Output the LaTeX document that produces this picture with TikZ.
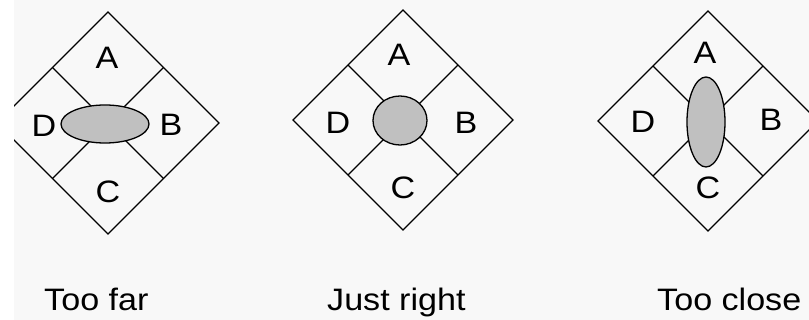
\documentclass[tikz,border=0pt]{standalone}
\usepackage{fontspec}
\setmainfont{Liberation Sans}
\definecolor{bgc}{HTML}{F8F8F8}
\definecolor{blobc}{HTML}{C0C0C0}
\tikzset{
  edge/.style={line width=1.2pt, line join=miter},
  blob/.style={line width=1.3pt, fill=blobc, draw=black},
  lbl/.style={font=\fontsize{31}{31}\selectfont, inner sep=0pt, text height=22pt, text depth=0pt, xscale=1.1},
}
\begin{document}
\begin{tikzpicture}[x=1pt,y=-1pt]
\useasboundingbox (0,0) rectangle (809,320);
\fill[white] (0,0) rectangle (809,320);
\fill[bgc] (14,0) rectangle (809,320);
\begin{scope}
\clip (14,0) rectangle (809,320);
% diamond 1
\begin{scope}[shift={(108,123)}]
  \draw[edge] (0,-111) -- (111,0) -- (0,111) -- (-111,0) -- cycle;
  \draw[edge] (-55.5,-55.5) -- (55.5,55.5) (55.5,-55.5) -- (-55.5,55.5);
  \draw[blob] (-3,1) ellipse [x radius=44, y radius=19];
\end{scope}
% diamond 2
\begin{scope}[shift={(403,120)}]
  \draw[edge] (0,-110) -- (110,0) -- (0,110) -- (-110,0) -- cycle;
  \draw[edge] (-55,-55) -- (55,55) (55,-55) -- (-55,55);
  \draw[blob] (-3,0.5) ellipse [x radius=27, y radius=24.5];
\end{scope}
% diamond 3
\begin{scope}[shift={(708,121)}]
  \draw[edge] (0,-110) -- (110,0) -- (0,110) -- (-110,0) -- cycle;
  \draw[edge] (-55,-55) -- (55,55) (55,-55) -- (-55,55);
  \draw[blob] (-2,1) ellipse [x radius=19, y radius=45];
\end{scope}
\end{scope}
% labels diamond 1
\node[lbl] (a1) at (107,58) {A};
\node[lbl] (b1) at (171,125) {B};
\node[lbl] (c1) at (108,192) {C};
\node[lbl] (d1) at (44,126) {D};
% labels diamond 2
\node[lbl] (a2) at (399,55) {A};
\node[lbl] (b2) at (466,123) {B};
\node[lbl] (c2) at (403,188) {C};
\node[lbl] (d2) at (338,123) {D};
% labels diamond 3
\node[lbl] (a3) at (705,53) {A};
\node[lbl] (b3) at (771,120) {B};
\node[lbl] (c3) at (708,188) {C};
\node[lbl] (d3) at (643,122) {D};
% captions
\node[lbl, anchor=west] (t1) at (44,300) {Too far};
\node[lbl, anchor=west] (t2) at (327,300) {Just right};
\node[lbl, anchor=west] (t3) at (657,300) {Too close};
\end{tikzpicture}
\end{document}
